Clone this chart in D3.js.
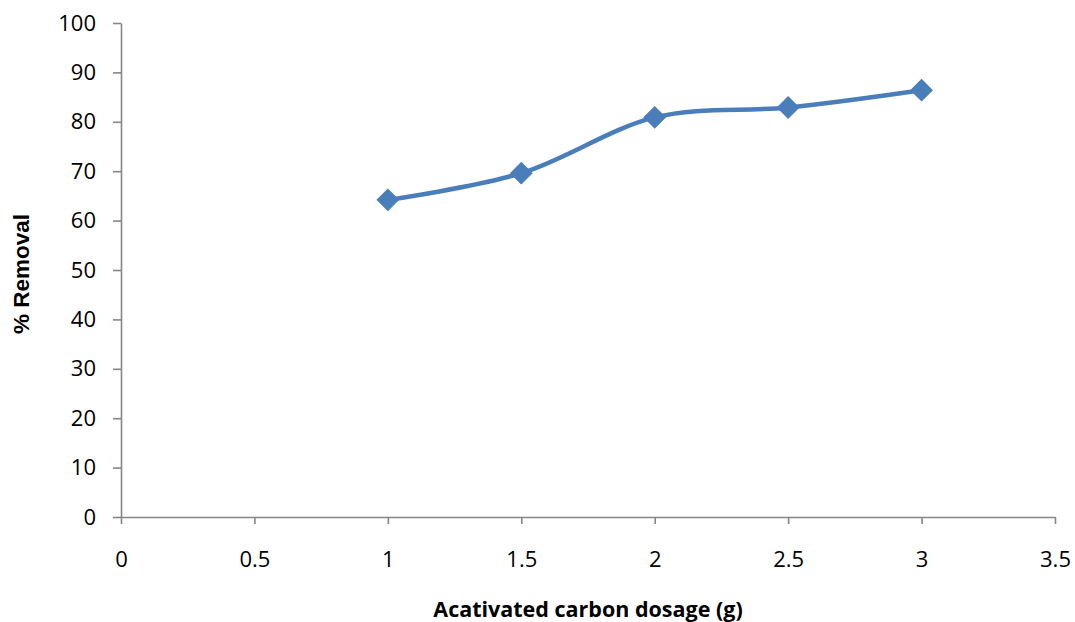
<!DOCTYPE html>
<html>
<head>
<meta charset="utf-8">
<script src="https://cdn.jsdelivr.net/npm/d3@7/dist/d3.min.js"></script>
<style>
  html, body { margin: 0; padding: 0; background: #fff; }
  svg { display: block; }
</style>
</head>
<body>
<svg id="chart" width="1075" height="622"></svg>
<script>
// Removal efficiency vs. activated carbon dosage
const dosage = [1, 1.5, 2, 2.5, 3];
const removal = [64.2, 69.6, 80.9, 82.9, 86.4];
const xTicks = [0, 0.5, 1, 1.5, 2, 2.5, 3, 3.5];
const yTicks = [0, 10, 20, 30, 40, 50, 60, 70, 80, 90, 100];
const xTitle = "Acativated carbon dosage (g)";
const yTitle = "% Removal";

const svg = d3.select("#chart");
const plotLeft = 121, plotRight = 1055, plotTop = 23, plotBottom = 517;

const x = d3.scaleLinear().domain([0, 3.5]).range([plotLeft, plotRight]);
const y = d3.scaleLinear().domain([0, 100]).range([plotBottom, plotTop]);

const axisColor = "#868686";
const tickFont = "'Open Sans', sans-serif";

// X axis
const gx = svg.append("g").attr("transform", `translate(0,${plotBottom})`)
  .call(d3.axisBottom(x).tickValues(xTicks).tickSize(7).tickSizeOuter(0)
    .tickPadding(27).tickFormat(d3.format("")));
gx.select(".domain").attr("stroke", axisColor).attr("stroke-width", 1.6);
gx.selectAll(".tick line").attr("stroke", axisColor).attr("stroke-width", 1.6);
gx.selectAll(".tick text").attr("fill", "#000").style("font-family", tickFont).style("font-size", "22px");

// Y axis
const gy = svg.append("g").attr("transform", `translate(${plotLeft},0)`)
  .call(d3.axisLeft(y).tickValues(yTicks).tickSize(8).tickSizeOuter(0).tickPadding(17));
gy.select(".domain").attr("stroke", axisColor).attr("stroke-width", 1.6);
gy.selectAll(".tick line").attr("stroke", axisColor).attr("stroke-width", 1.6);
gy.selectAll(".tick text").attr("fill", "#000").style("font-family", tickFont).style("font-size", "22px");

// Smoothed series line
const pts = dosage.map((d, i) => [d, removal[i]]);
const line = d3.line().x(d => x(d[0])).y(d => y(d[1])).curve(d3.curveCardinal.tension(0));
svg.append("path").datum(pts)
  .attr("d", line)
  .attr("fill", "none")
  .attr("stroke", "#4A7EBB")
  .attr("stroke-width", 4.5)
  .attr("stroke-linejoin", "round");

// Diamond markers
const diamond = d3.symbol().type(d3.symbolSquare).size(230);
svg.append("g").selectAll("path").data(pts).join("path")
  .attr("transform", d => `translate(${x(d[0])},${y(d[1])}) rotate(45)`)
  .attr("d", diamond)
  .attr("fill", "#4A7EBB")
  .attr("stroke", "#4A7EBB")
  .attr("stroke-width", 1);

// Axis titles
svg.append("text")
  .attr("x", 588).attr("y", 617)
  .attr("text-anchor", "middle")
  .style("font-family", tickFont).style("font-weight", "bold").style("font-size", "21.5px")
  .text(xTitle);

svg.append("text")
  .attr("transform", "translate(29,274) rotate(-90)")
  .attr("text-anchor", "middle")
  .style("font-family", "'Liberation Sans', Arial, sans-serif").style("font-weight", "bold").style("font-size", "22.5px")
  .text(yTitle);
</script>
</body>
</html>
